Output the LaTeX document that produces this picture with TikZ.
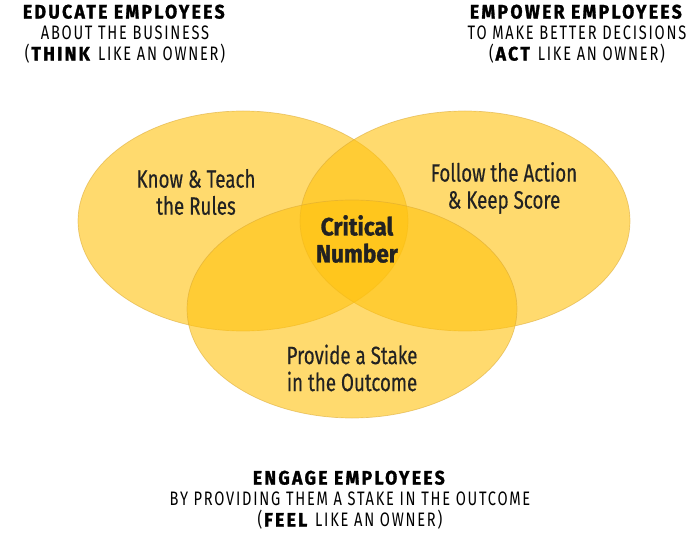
\documentclass[tikz,border=0pt]{standalone}
\usepackage{fontspec}
\setmainfont{Fira Sans}[FakeStretch=0.75, FakeBold=0.4, BoldFeatures={FakeStretch=0.90, FakeBold=1.2}]
\newfontfamily\headfont{Fira Sans}[FakeStretch=0.75, LetterSpace=9, BoldFeatures={FakeStretch=0.90, LetterSpace=12, FakeBold=1.5}]
\definecolor{venn}{HTML}{FFC20E}
\definecolor{vennline}{HTML}{D9A733}
\definecolor{txt}{HTML}{222222}
\tikzset{
  circ/.style={fill=venn, fill opacity=0.6, draw=vennline, draw opacity=0.55, line width=0.7pt},
  inner/.style={align=center, text=txt, inner sep=0pt, font=\fontsize{25}{27}\selectfont},
  head/.style={align=center, text=black, inner sep=0pt, font=\headfont\fontsize{19.5}{21}\selectfont}
}
\begin{document}
\begin{tikzpicture}[x=1pt, y=-1pt, line join=round]
  \useasboundingbox (0,0) rectangle (700,534);
  % circles
  \draw[circ] (243,221) ellipse [x radius=165pt, y radius=110pt];
  \draw[circ] (465,221) ellipse [x radius=165pt, y radius=110pt];
  \draw[circ] (352,309) ellipse [x radius=165pt, y radius=109pt];
  % texts inside
  \node[inner] (rules) at (196,192) {Know \& Teach\\the Rules};
  \node[inner] (score) at (504,188) {Follow the Action\\\& Keep Score};
  \node[inner, font=\bfseries\fontsize{25}{27}\selectfont] (crit) at (357,239) {Critical\\Number};
  \node[inner] (stake) at (352,368) {Provide a Stake\\in the Outcome};
  % headings
  \node[head] (educ) at (125,34) {\textbf{EDUCATE EMPLOYEES}\\ABOUT THE BUSINESS\\(\textbf{THINK} LIKE AN OWNER)};
  \node[head] (empow) at (577,34) {\textbf{EMPOWER EMPLOYEES}\\TO MAKE BETTER DECISIONS\\(\textbf{ACT} LIKE AN OWNER)};
  \node[head] (engage) at (350,500) {\textbf{ENGAGE EMPLOYEES}\\BY PROVIDING THEM A STAKE IN THE OUTCOME\\(\textbf{FEEL} LIKE AN OWNER)};
\end{tikzpicture}
\end{document}
